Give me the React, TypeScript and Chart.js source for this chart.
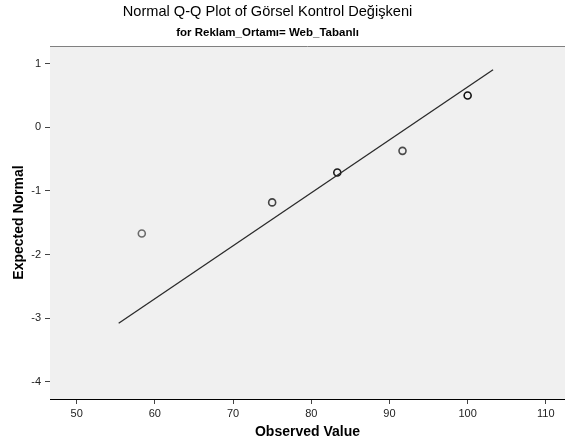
import { useEffect, useRef } from "react";
import { Chart, registerables } from "chart.js";

Chart.register(...registerables);

const chartTitle = "Normal Q-Q Plot of Görsel Kontrol Değişkeni";
const chartSubtitle = "for Reklam_Ortamı= Web_Tabanlı";
const xAxisTitle = "Observed Value";
const yAxisTitle = "Expected Normal";

const observedValues = [58.33, 75.0, 83.33, 91.67, 100.0];
const expectedNormals = [-1.67, -1.18, -0.71, -0.37, 0.5];

const fitLineX = [55.37, 103.25];
const fitLineY = [-3.08, 0.906];

const xTickValues = [50, 60, 70, 80, 90, 100, 110];
const yTickValues = [-4, -3, -2, -1, 0, 1];
const xRange = [46.59, 112.45];
const yRange = [-4.27, 1.278];

const FONT = "'Liberation Sans', Arial, sans-serif";

const frame = {
  id: "frame",
  beforeDatasetsDraw(chart: any) {
    const { ctx, chartArea } = chart;
    ctx.save();
    ctx.fillStyle = "#F0F0F0";
    ctx.fillRect(chartArea.left, chartArea.top, chartArea.right - chartArea.left, chartArea.bottom - chartArea.top);
    ctx.restore();
  },
  afterDraw(chart: any) {
    const { ctx, chartArea } = chart;
    ctx.save();
    ctx.strokeStyle = "#808080";
    ctx.lineWidth = 1;
    ctx.beginPath();
    ctx.moveTo(chartArea.left, chartArea.top + 0.5);
    ctx.lineTo(chartArea.right, chartArea.top + 0.5);
    ctx.stroke();
    // titles
    ctx.fillStyle = "#000";
    ctx.textAlign = "center";
    ctx.textBaseline = "middle";
    ctx.font = `normal 14.6px ${FONT}`;
    ctx.fillText(chartTitle, 267.5, 11.5);
    ctx.font = `bold 11.5px ${FONT}`;
    ctx.fillText(chartSubtitle, 267.5, 32.5);
    ctx.restore();
  },
};

export default function App() {
  const ref = useRef<HTMLCanvasElement | null>(null);

  useEffect(() => {
    document.body.style.margin = "0";
    const canvas = ref.current;
    if (!canvas) return;
    const points = observedValues.map((x, i) => ({ x, y: expectedNormals[i] }));
    const line = fitLineX.map((x, i) => ({ x, y: fitLineY[i] }));

    const chart = new Chart(canvas, {
      type: "scatter",
      data: {
        datasets: [
          {
            type: "line",
            data: line,
            borderColor: "#2a2a2a",
            borderWidth: 1.3,
            pointRadius: 0,
            fill: false,
            tension: 0,
          } as any,
          {
            type: "scatter",
            data: points,
            pointStyle: "circle",
            pointRadius: 3.5,
            pointBorderWidth: 1.6,
            pointBackgroundColor: "rgba(0,0,0,0)",
            pointBorderColor: ["#6a6a6a", "#444", "#1a1a1a", "#4a4a4a", "#111"],
          } as any,
        ],
      },
      plugins: [frame],
      options: {
        animation: false,
        responsive: false,
        layout: { autoPadding: false, padding: { top: 46, left: 0, right: 0, bottom: 0 } },
        plugins: {
          legend: { display: false },
          tooltip: { enabled: false },
          title: { display: false },
          subtitle: { display: false },
        },
        scales: {
          x: {
            type: "linear",
            min: xRange[0],
            max: xRange[1],
            afterFit: (s: any) => {
              s.height = 47;
              s.paddingLeft = 0;
              s.paddingRight = 0;
            },
            afterBuildTicks: (s: any) => {
              s.ticks = xTickValues.map((v) => ({ value: v }));
            },
            ticks: {
              color: "#222",
              font: { family: FONT, size: 11 },
              padding: 3,
              maxRotation: 0,
            },
            grid: { drawOnChartArea: false, drawTicks: true, tickLength: 5, color: "#444" },
            border: { display: true, color: "#000", width: 1 },
            title: {
              display: true,
              text: xAxisTitle,
              color: "#000",
              font: { family: FONT, size: 14, weight: "bold" },
              padding: { top: 0, bottom: 5 },
            },
          },
          y: {
            type: "linear",
            min: yRange[0],
            max: yRange[1],
            afterFit: (s: any) => {
              s.width = 50;
              s.paddingTop = 0;
              s.paddingBottom = 0;
            },
            afterBuildTicks: (s: any) => {
              s.ticks = yTickValues.map((v) => ({ value: v }));
            },
            ticks: {
              color: "#222",
              font: { family: FONT, size: 11 },
              padding: 4,
            },
            grid: { drawOnChartArea: false, drawTicks: true, tickLength: 5, color: "#444" },
            border: { display: true, color: "#000", width: 1 },
            title: {
              display: true,
              text: yAxisTitle,
              color: "#000",
              font: { family: FONT, size: 14, weight: "bold" },
              padding: { top: 11, bottom: 0 },
            },
          },
        },
      },
    });
    return () => chart.destroy();
  }, []);

  return <canvas ref={ref} width={565} height={446} style={{ display: "block" }} />;
}
